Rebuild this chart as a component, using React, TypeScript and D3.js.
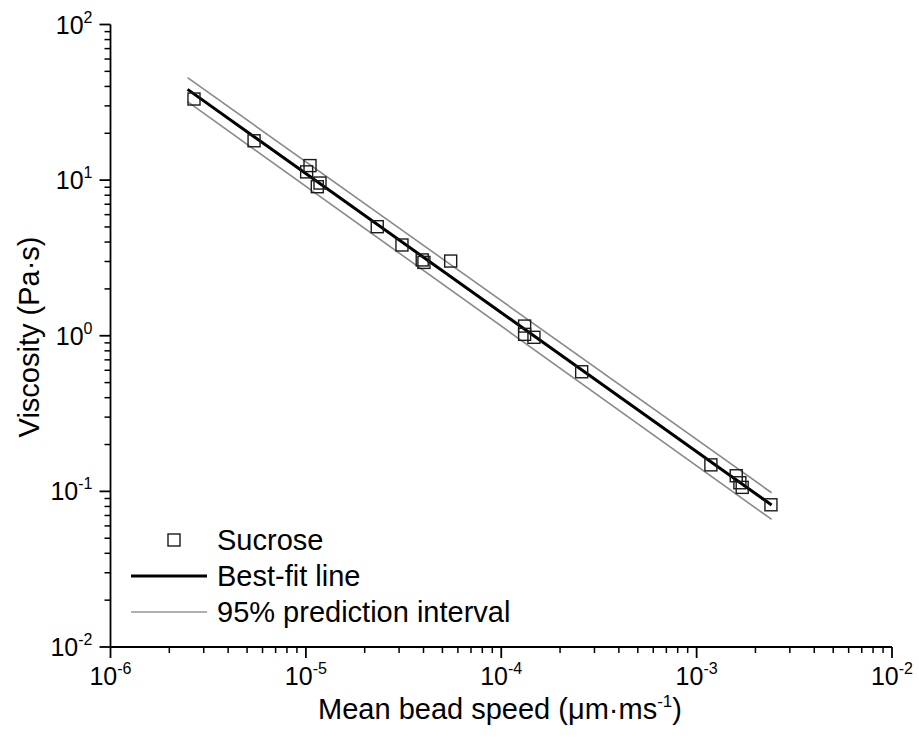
import React from "react";
import * as d3 from "d3";

const speed = [2.675e-6, 5.43e-6, 1.05e-5, 1.009e-5, 1.181e-5, 1.144e-5, 2.319e-5, 3.103e-5, 3.94e-5, 4.02e-5, 5.51e-5, 1.317e-4, 1.317e-4, 1.47e-4, 2.58e-4, 1.183e-3, 1.595e-3, 1.665e-3, 1.711e-3, 2.401e-3];
const viscosity = [33.2, 17.9, 12.4, 11.3, 9.58, 9.07, 5.02, 3.83, 3.07, 2.96, 3.02, 1.154, 1.021, 0.977, 0.587, 0.148, 0.126, 0.1136, 0.1061, 0.082];
const fitX = [2.48e-6, 2.42e-3];
const fitY = [38.3, 0.0817];
const upperY = [45.5, 0.098];
const lowerY = [31.9, 0.066];
const xTickExp = [-6, -5, -4, -3, -2];
const yTickExp = [-2, -1, 0, 1, 2];
const legendLabels = ["Sucrose", "Best-fit line", "95% prediction interval"];

const W = 919, H = 750;
const FONT = "'Liberation Sans', Arial, sans-serif";

export default function App() {
  const x = d3.scaleLog().domain([1e-6, 1e-2]).range([110.5, 892]);
  const y = d3.scaleLog().domain([1e-2, 1e2]).range([647, 24.5]);
  const line = d3.line<[number, number]>().x(d => x(d[0])).y(d => y(d[1]));
  const pts = (ys: number[]) => fitX.map((v, i) => [v, ys[i]] as [number, number]);

  const xMinor: number[] = [];
  for (let e = -6; e < -2; e++) for (let k = 2; k <= 9; k++) xMinor.push(k * Math.pow(10, e));
  const yMinor: number[] = [];
  for (let e = -2; e < 2; e++) for (let k = 2; k <= 9; k++) yMinor.push(k * Math.pow(10, e));

  const x0 = x(1e-6), y0 = y(1e-2);
  const ms = 12;

  return (
    <svg width={W} height={H} style={{ position: "absolute", left: 0, top: 0, background: "#fff" }} fontFamily={FONT}>
      <rect width={W} height={H} fill="#fff" />
      <path d={line(pts(upperY))!} fill="none" stroke="#8a8a8a" strokeWidth={1.6} />
      <path d={line(pts(lowerY))!} fill="none" stroke="#8a8a8a" strokeWidth={1.6} />
      <path d={line(pts(fitY))!} fill="none" stroke="#000" strokeWidth={3} />
      {speed.map((s, i) => (
        <rect key={i} x={x(s) - ms / 2} y={y(viscosity[i]) - ms / 2} width={ms} height={ms} fill="none" stroke="#1a1a1a" strokeWidth={1.4} />
      ))}
      <line x1={x0} x2={x(1e-2)} y1={y0} y2={y0} stroke="#000" strokeWidth={1.8} />
      <line x1={x0} x2={x0} y1={y0} y2={y(1e2)} stroke="#000" strokeWidth={1.8} />
      {xTickExp.map(e => (
        <g key={"xt" + e}>
          <line x1={x(Math.pow(10, e))} x2={x(Math.pow(10, e))} y1={y0} y2={y0 + 11} stroke="#000" strokeWidth={1.8} />
          <text x={x(Math.pow(10, e))} y={y0 + 38} textAnchor="middle" fontSize={25}>
            10<tspan dy={-11} fontSize={16}>{e}</tspan>
          </text>
        </g>
      ))}
      {xMinor.map((v, i) => (
        <line key={"xm" + i} x1={x(v)} x2={x(v)} y1={y0} y2={y0 + 6} stroke="#000" strokeWidth={1.5} />
      ))}
      {yTickExp.map(e => (
        <g key={"yt" + e}>
          <line x1={x0 - 11} x2={x0} y1={y(Math.pow(10, e))} y2={y(Math.pow(10, e))} stroke="#000" strokeWidth={1.8} />
          <text x={x0 - 18} y={y(Math.pow(10, e)) + 9} textAnchor="end" fontSize={25}>
            10<tspan dy={-11} fontSize={16}>{e}</tspan>
          </text>
        </g>
      ))}
      {yMinor.map((v, i) => (
        <line key={"ym" + i} x1={x0 - 6} x2={x0} y1={y(v)} y2={y(v)} stroke="#000" strokeWidth={1.5} />
      ))}
      <text x={500} y={719} textAnchor="middle" fontSize={29}>
        Mean bead speed (μm·ms<tspan dy={-12} fontSize={17}>-1</tspan><tspan dy={12}>)</tspan>
      </text>
      <text transform="translate(39,337) rotate(-90)" textAnchor="middle" fontSize={29}>
        Viscosity (Pa·s)
      </text>
      <rect x={174 - 6} y={540 - 6} width={12} height={12} fill="none" stroke="#1a1a1a" strokeWidth={1.4} />
      <line x1={131} x2={207} y1={576} y2={576} stroke="#000" strokeWidth={3} />
      <line x1={131} x2={207} y1={612} y2={612} stroke="#b0b0b0" strokeWidth={2} />
      {legendLabels.map((t, i) => (
        <text key={t} x={217} y={550 + i * 36} fontSize={29}>{t}</text>
      ))}
    </svg>
  );
}
